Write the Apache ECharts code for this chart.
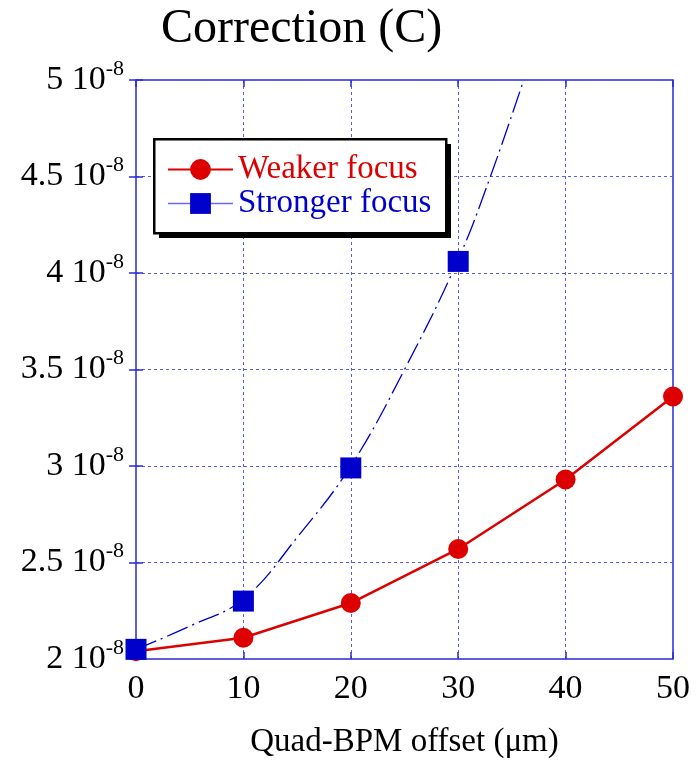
<!DOCTYPE html>
<html>
<head>
<meta charset="utf-8">
<script src="https://cdn.jsdelivr.net/npm/echarts@6/dist/echarts.min.js"></script>
<style>html,body{margin:0;padding:0;background:#fff}#c{width:698px;height:764px}</style>
</head>
<body>
<div id="c"></div>
<script>
// Values of C in units of 1e-8
var offsets = [0, 10, 20, 30, 40, 50];
var weakerFocus = [2.04, 2.11, 2.29, 2.57, 2.93, 3.36];
var strongerOffsets = [0, 10, 20, 30];
var strongerFocus = [2.05, 2.30, 2.99, 4.06];
// dashed fit curve of the stronger-focus points
var fitOffsets = [0, 5, 10, 15, 20, 25, 30, 33, 36.1];
var fitValues = [2.05, 2.17, 2.31, 2.63, 3.00, 3.50, 4.07, 4.50, 5.00];
var yTicks = [2, 2.5, 3, 3.5, 4, 4.5, 5];
var xTicks = [0, 10, 20, 30, 40, 50];

var FONT = "'Liberation Serif','Times New Roman',serif";
var RED = '#dd0000', BLUE = '#0000cc', GRID = '#5a5aee', FRAME = '#2a2ad8';

function pairs(xs, ys){ return xs.map(function(x,i){ return [x, ys[i]]; }); }

var chart = echarts.init(document.getElementById('c'));
chart.setOption({
  animation: false,
  backgroundColor: '#fff',
  title: {
    text: 'Correction (C)', left: 161, top: 5, padding: 0,
    textStyle: { fontFamily: FONT, fontSize: 48, fontWeight: 'normal', color: '#000' }
  },
  graphic: [
    { type: 'rect', left: 159, top: 144, shape: { width: 292, height: 94 }, style: { fill: '#000' }, z: 90 },
    { type: 'rect', left: 153, top: 138, shape: { width: 292, height: 94 }, style: { fill: '#fff', stroke: '#000', lineWidth: 2.5 }, z: 91 }
  ],
  grid: { left: 136, right: 25, top: 80, bottom: 102, show: true, borderColor: FRAME, borderWidth: 1.5, backgroundColor: 'transparent' },
  legend: {
    orient: 'vertical', left: 153, top: 143, z: 100,
    padding: [10, 14, 10, 14], itemGap: 1, itemWidth: 65, itemHeight: 26,
    textStyle: { fontFamily: FONT, fontSize: 33, padding: [0, 0, 0, 0] },
    data: [
      { name: 'Weaker focus', textStyle: { color: RED } },
      { name: 'Stronger focus', textStyle: { color: BLUE }, lineStyle: { width: 1.5, color: '#6a6af0', opacity: 1, type: 'solid' } }
    ]
  },
  xAxis: [{
    type: 'value', min: 0, max: 50, interval: 10,
    name: 'Quad-BPM offset (\u03bcm)', nameLocation: 'middle', nameGap: 67,
    nameTextStyle: { fontFamily: FONT, fontSize: 33, color: '#000' },
    axisLine: { show: false },
    axisTick: { show: true, inside: true, length: 7, lineStyle: { color: FRAME, width: 1.5 } },
    axisLabel: { margin: 13, fontFamily: FONT, fontSize: 34, color: '#000' },
    splitLine: { show: true, lineStyle: { color: GRID, width: 1, type: [3, 3] } }
  }, {
    type: 'value', position: 'top', min: 0, max: 50, interval: 10,
    axisLine: { show: false }, axisLabel: { show: false }, splitLine: { show: false },
    axisTick: { show: true, inside: true, length: 7, lineStyle: { color: FRAME, width: 1.5 } }
  }],
  yAxis: [{
    type: 'value', min: 2, max: 5, interval: 0.5,
    axisLine: { show: false },
    axisTick: { show: true, inside: true, length: 7, lineStyle: { color: FRAME, width: 1.5 } },
    axisLabel: {
      margin: 12, color: '#000',
      formatter: function(v){ return '{b|' + v + ' 10}{s|-8}'; },
      rich: {
        b: { fontFamily: FONT, fontSize: 34, color: '#000', lineHeight: 44 },
        s: { fontFamily: FONT, fontSize: 22, color: '#000', verticalAlign: 'top' }
      }
    },
    splitLine: { show: true, lineStyle: { color: GRID, width: 1, type: [3, 3] } }
  }, {
    type: 'value', position: 'right', min: 2, max: 5, interval: 0.5,
    axisLine: { show: false }, axisLabel: { show: false }, splitLine: { show: false },
    axisTick: { show: true, inside: true, length: 7, lineStyle: { color: FRAME, width: 1.5 } }
  }],
  series: [
    {
      name: 'Weaker focus', type: 'line', data: pairs(offsets, weakerFocus),
      symbol: 'circle', symbolSize: 20, clip: false, z: 3,
      itemStyle: { color: RED }, lineStyle: { color: RED, width: 2.5 }
    },
    {
      name: 'fit', type: 'line', data: pairs(fitOffsets, fitValues), smooth: 0.4,
      showSymbol: false, symbol: 'none', z: 4, silent: true,
      lineStyle: { color: BLUE, width: 1.3, type: [22, 5, 2, 5] }
    },
    {
      name: 'Stronger focus', type: 'line', data: pairs(strongerOffsets, strongerFocus),
      symbol: 'rect', symbolSize: 21, clip: false, z: 5,
      itemStyle: { color: BLUE }, lineStyle: { width: 0, opacity: 0 }
    }
  ]
});
</script>
</body>
</html>
